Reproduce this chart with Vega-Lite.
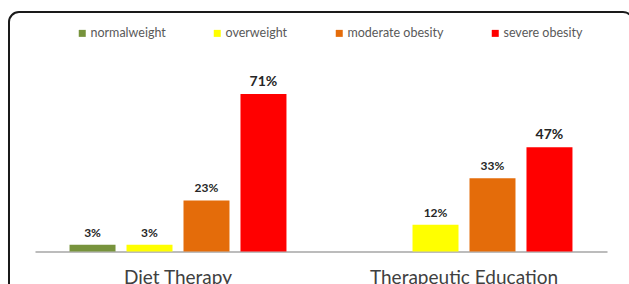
{
  "$schema": "https://vega.github.io/schema/vega-lite/v6.json",
  "width": 624,
  "height": 290,
  "autosize": {"type": "none"},
  "padding": {"left": 9, "top": 12, "right": 0, "bottom": 0},
  "background": "white",
  "config": {
    "view": {"stroke": "#1a1a1a", "strokeWidth": 2, "cornerRadius": 10, "fill": "white"},
    "font": "Lato"
  },
  "data": {
    "values": [
      {"group": "Diet Therapy", "cat": "normalweight", "value": 0.03},
      {"group": "Diet Therapy", "cat": "overweight", "value": 0.03},
      {"group": "Diet Therapy", "cat": "moderate obesity", "value": 0.23},
      {"group": "Diet Therapy", "cat": "severe obesity", "value": 0.71},
      {"group": "Therapeutic Education", "cat": "overweight", "value": 0.12},
      {"group": "Therapeutic Education", "cat": "moderate obesity", "value": 0.33},
      {"group": "Therapeutic Education", "cat": "severe obesity", "value": 0.47}
    ]
  },
  "encoding": {
    "x": {
      "field": "group",
      "type": "nominal",
      "sort": ["Diet Therapy", "Therapeutic Education"],
      "scale": {"range": [26, 598], "paddingInner": 0, "paddingOuter": 0},
      "axis": {
        "title": null,
        "orient": "bottom",
        "offset": -50.5,
        "ticks": false,
        "labelAngle": 0,
        "labelFont": "Lato",
        "labelFontSize": 19,
        "labelColor": "#404040",
        "labelPadding": 17,
        "labelLimit": 0,
        "domainColor": "#A6A6A6",
        "domainWidth": 1.5,
        "grid": false
      }
    },
    "xOffset": {
      "field": "cat",
      "type": "nominal",
      "scale": {
        "domain": ["normalweight", "overweight", "moderate obesity", "severe obesity"],
        "paddingInner": 0.193,
        "paddingOuter": 0.606
      }
    },
    "y": {
      "field": "value",
      "type": "quantitative",
      "scale": {"domain": [-0.2275, 1.079], "nice": false, "zero": false},
      "axis": null
    }
  },
  "layer": [
    {
      "mark": {"type": "bar"},
      "encoding": {
        "y2": {"datum": 0},
        "color": {
          "field": "cat",
          "type": "nominal",
          "scale": {
            "domain": ["normalweight", "overweight", "moderate obesity", "severe obesity"],
            "range": ["#77933C", "#FFFF00", "#E46C0A", "#FF0000"]
          },
          "legend": {
            "orient": "none",
            "legendX": 67,
            "legendY": 15,
            "direction": "horizontal",
            "title": null,
            "columnPadding": 45,
            "symbolType": "square",
            "symbolSize": 49,
            "symbolStrokeWidth": 0,
            "labelFont": "Lato",
            "labelFontSize": 12.5,
            "labelColor": "#595959",
            "labelOffset": 2,
            "padding": 0
          }
        }
      }
    },
    {
      "mark": {"type": "text", "baseline": "alphabetic", "dy": -8, "fontWeight": "bold", "color": "#262626", "font": "Lato"},
      "encoding": {
        "text": {"field": "value", "type": "quantitative", "format": ".0%"},
        "size": {"condition": {"test": "datum.cat === 'severe obesity'", "value": 14}, "value": 12}
      }
    }
  ]
}
